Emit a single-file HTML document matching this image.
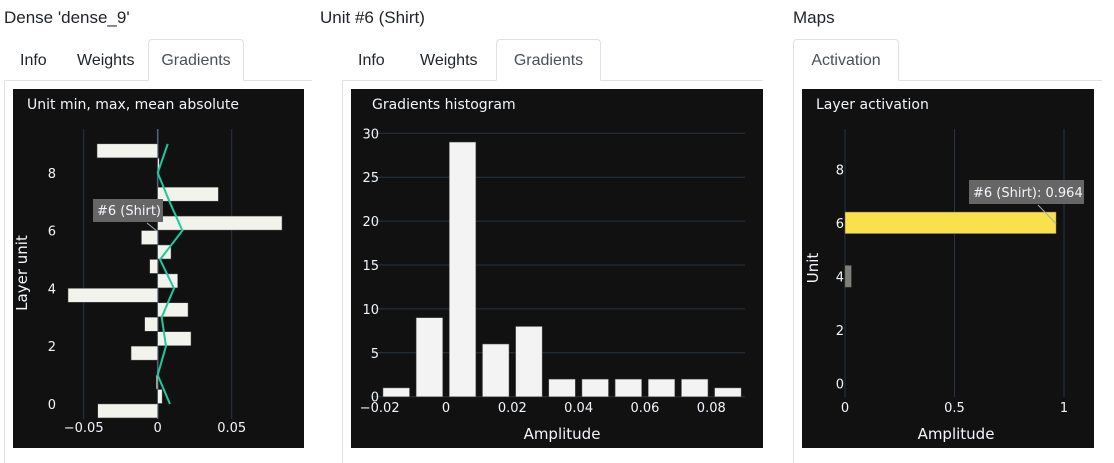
<!DOCTYPE html>
<html><head><meta charset="utf-8"><style>
body{margin:0;width:1114px;height:463px;background:#fff;position:relative;overflow:hidden;font-family:"Liberation Sans",sans-serif;}
.h{position:absolute;top:8px;font-size:17px;color:#212529;}
.tabline{position:absolute;top:80px;height:1px;background:#dee2e6;}
.vline{position:absolute;top:80px;width:1px;height:383px;background:#dee2e6;}
.tab{position:absolute;top:52px;font-size:16px;color:#212529;}
.atab{position:absolute;top:39px;height:42px;border:1px solid #dee2e6;border-bottom:1px solid #fff;border-radius:4px 4px 0 0;background:#fff;box-sizing:border-box;font-size:16px;color:#495057;text-align:center;line-height:42px;}
svg{position:absolute;top:89px;}
svg text{font-family:"DejaVu Sans","Liberation Sans",sans-serif;fill:#f2f5fa;}
</style></head><body>
<div class="h" style="left:4px">Dense 'dense_9'</div>
<div class="h" style="left:320px">Unit #6 (Shirt)</div>
<div class="h" style="left:793px">Maps</div>

<div class="tabline" style="left:4px;width:308px"></div>
<div class="tabline" style="left:342px;width:421px"></div>
<div class="tabline" style="left:793px;width:309px"></div>
<div class="vline" style="left:4px"></div>
<div class="vline" style="left:342px"></div>
<div class="vline" style="left:793px"></div>

<div class="tab" style="left:20px">Info</div>
<div class="tab" style="left:77px">Weights</div>
<div class="atab" style="left:148px;width:96px">Gradients</div>
<div class="tab" style="left:358px">Info</div>
<div class="tab" style="left:420px">Weights</div>
<div class="atab" style="left:496px;width:105px">Gradients</div>
<div class="atab" style="left:793px;width:106px">Activation</div>

<svg id="c1" style="left:13px" width="291" height="359"></svg>
<svg id="c2" style="left:351px" width="412" height="359"></svg>
<svg id="c3" style="left:802px" width="292" height="359"></svg>

<script>
const units=[0,1,2,3,4,5,6,7,8,9];
const minVals=[-0.0405,-0.001,-0.018,-0.0088,-0.0606,-0.0054,-0.011,0,0,-0.041];
const maxVals=[0.003,0,0.0225,0.0205,0.0135,0.009,0.084,0.041,0.001,0];
const meanVals=[0.0083,0,0.0056,0.0027,0.011,0.0016,0.0167,0.008,0,0.0068];
const x1Ticks=[-0.05,0,0.05];
const x1Labels=["\u22120.05","0","0.05"];
const y1Ticks=[0,2,4,6,8];

const histBins=[-0.015,-0.005,0.005,0.015,0.025,0.035,0.045,0.055,0.065,0.075,0.085];
const histCounts=[1,9,29,6,8,2,2,2,2,2,1];
const x2Ticks=[-0.02,0,0.02,0.04,0.06,0.08];
const x2Labels=["\u22120.02","0","0.02","0.04","0.06","0.08"];
const y2Ticks=[0,5,10,15,20,25,30];

const actUnits=[0,1,2,3,4,5,6,7,8,9];
const actVals=[0,0,0,0,0.029,0,0.964,0,0,0];
const x3Ticks=[0,0.5,1];
const x3Labels=["0","0.5","1"];
const y3Ticks=[0,2,4,6,8];

const NS="http://www.w3.org/2000/svg";
function mk(svg,tag,attrs,txt){const e=document.createElementNS(NS,tag);for(const k in attrs)e.setAttribute(k,attrs[k]);if(txt!==undefined)e.textContent=txt;svg.appendChild(e);return e;}
function bg(svg,title){const r=mk(svg,'rect',{x:0,y:0,width:svg.getAttribute('width'),height:359,fill:'#111111'});


const t=mk(svg,'text',{x:svg.id=='c2'?21:14,y:20,'font-size':14},title);

}

// Chart 1
(function(){const s=document.getElementById('c1');bg(s,'Unit min, max, mean absolute');
const X=v=>144.7+v*1480, Y=u=>315-u*28.9;
x1Ticks.forEach((t,i)=>{if(t!==0){const g=mk(s,'line',{x1:X(t),x2:X(t),y1:40,y2:330,stroke:'#283442','stroke-width':1});

}
const l=mk(s,'text',{x:X(t),y:343,'font-size':13,'text-anchor':'middle'},x1Labels[i]);

});
const z=mk(s,'line',{x1:X(0),x2:X(0),y1:40,y2:330,stroke:'#506784','stroke-width':1.5});


y1Ticks.forEach(t=>{const l=mk(s,'text',{x:43,y:Y(t)+5,'font-size':13,'text-anchor':'end'},t);

});
const bh=14;
units.forEach((u,i)=>{[[minVals[i],u-0.24],[maxVals[i],u+0.26]].forEach(([v,c])=>{if(v===0)return;
const b=mk(s,'rect',{x:Math.min(X(0),X(v)),y:Y(c)-bh/2,width:Math.abs(X(v)-X(0)),height:bh,fill:'#f3f3ee',stroke:'#444',"stroke-width":0.5});

});});
const p=mk(s,'polyline',{points:units.map((u,i)=>X(meanVals[i])+','+Y(u)).join(' '),fill:'none',stroke:'#1ec99a','stroke-width':2});


const yt=mk(s,'text',{x:0,y:0,'font-size':15,'text-anchor':'middle',transform:'translate(14,184) rotate(-90)'},'Layer unit');


const tb=mk(s,'rect',{x:80,y:110,width:70,height:23,fill:'#666'});


const tt=mk(s,'text',{x:84,y:126,'font-size':13},'#6 (Shirt)');


mk(s,'line',{x1:134,y1:134,x2:X(0),y2:Y(6)+1,stroke:'#aaa','stroke-width':1});
})();

// Chart 2
(function(){const s=document.getElementById('c2');bg(s,'Gradients histogram');
const X=v=>95+v*3316, Y=c=>307.7-c*8.78;
y2Ticks.forEach(t=>{const g=mk(s,'line',{x1:22,x2:394,y1:Y(t),y2:Y(t),stroke:'#283442','stroke-width':1});


const l=mk(s,'text',{x:28,y:Y(t)+5,'font-size':13,'text-anchor':'end'},t);

});
histBins.forEach((c,i)=>{const w=0.008;const b=mk(s,'rect',{x:X(c-w/2),y:Y(histCounts[i]),width:X(w)-X(0),height:Y(0)-Y(histCounts[i]),fill:'#f3f3f3',stroke:'#555','stroke-width':0.5});

});
x2Ticks.forEach((t,i)=>{const l=mk(s,'text',{x:X(t),y:323,'font-size':13,'text-anchor':'middle'},x2Labels[i]);

});
const xt=mk(s,'text',{x:211,y:350,'font-size':15,'text-anchor':'middle'},'Amplitude');


})();

// Chart 3
(function(){const s=document.getElementById('c3');bg(s,'Layer activation');
const X=v=>43+v*219, Y=u=>294.3-u*26.75;
x3Ticks.forEach((t,i)=>{const g=mk(s,'line',{x1:X(t),x2:X(t),y1:40,y2:308,stroke:'#283442','stroke-width':1});


const l=mk(s,'text',{x:X(t),y:323,'font-size':13,'text-anchor':'middle'},x3Labels[i]);

});
y3Ticks.forEach(t=>{const l=mk(s,'text',{x:42,y:Y(t)+5,'font-size':13,'text-anchor':'end'},t);

});
actUnits.forEach((u,i)=>{const v=actVals[i];if(v===0)return;const b=mk(s,'rect',{x:X(0),y:Y(u)-10.8,width:X(v)-X(0),height:21.6,fill:u===6?'#f8e14b':'#7f7f7a',stroke:'#555','stroke-width':0.5});

});
const yt=mk(s,'text',{x:0,y:0,'font-size':15,'text-anchor':'middle',transform:'translate(16,179) rotate(-90)'},'Unit');


const xt=mk(s,'text',{x:154,y:350,'font-size':15,'text-anchor':'middle'},'Amplitude');


const tb=mk(s,'rect',{x:167,y:91,width:115,height:24,fill:'#666'});


const tt=mk(s,'text',{x:171,y:108,'font-size':13},'#6 (Shirt): 0.964');


mk(s,'line',{x1:236,y1:116,x2:X(0.964),y2:Y(6)+1,stroke:'#aaa','stroke-width':1});
})();
</script>
</body></html>
